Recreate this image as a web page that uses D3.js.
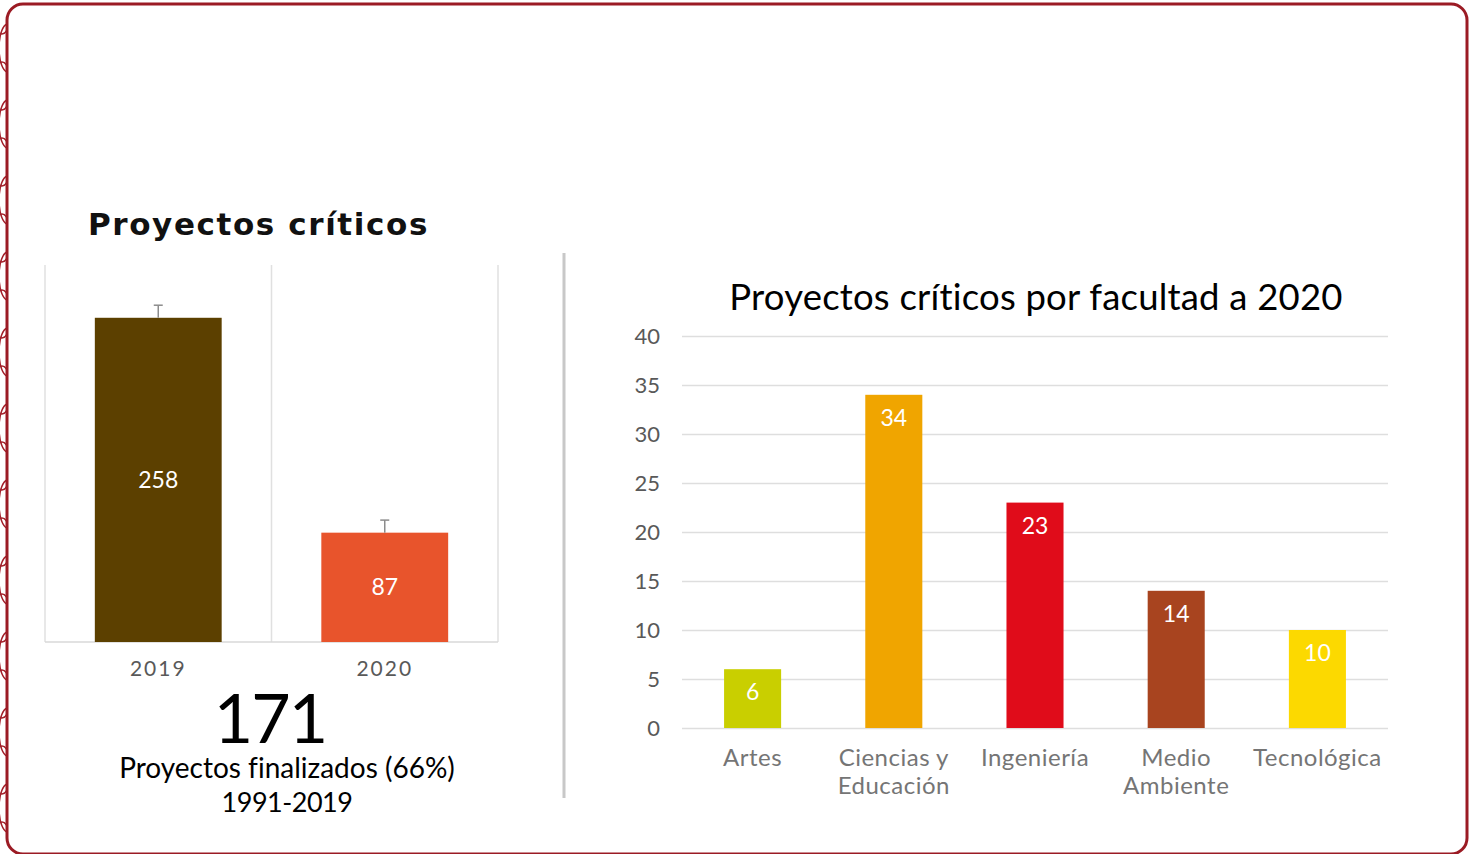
<!DOCTYPE html>
<html>
<head>
<meta charset="utf-8">
<script src="https://cdn.jsdelivr.net/npm/d3@7"></script>
<style>
  html, body { margin: 0; padding: 0; background: #fff; }
  svg { display: block; }
  text { font-variant-ligatures: none; }
</style>
</head>
<body>
<div id="chart"></div>
<script>
// left panel: projects per year
const years = ['2019', '2020'];
const yearValues = [258, 87];
const yearErrors = [10, 10];
const yearColors = ['#5c4000', '#e8542c'];

// right panel: projects per faculty
const faculties = [['Artes'], ['Ciencias y', 'Educación'], ['Ingeniería'], ['Medio', 'Ambiente'], ['Tecnológica']];
const facultyValues = [6, 34, 23, 14, 10];
const facultyColors = ['#c9cf00', '#f0a500', '#e00c1a', '#a8441f', '#fcd900'];
const facultyTicks = [0, 5, 10, 15, 20, 25, 30, 35, 40];

const W = 1470, H = 854;
const font = 'Lato, "Open Sans", sans-serif';

const svg = d3.select('#chart').append('svg')
    .attr('width', W)
    .attr('height', H);

svg.append('rect').attr('width', W).attr('height', H).attr('fill', '#fff');

// decorative strokes at the left edge
const deco = svg.append('g');
svg.append('clipPath').attr('id', 'edge')
    .append('rect').attr('x', 0).attr('y', 0).attr('width', 7).attr('height', H);
deco.attr('clip-path', 'url(#edge)');
d3.range(0, H, 38).forEach((y, i) => {
    deco.append('ellipse')
        .attr('cx', i % 2 ? 8 : 2).attr('cy', y + 10)
        .attr('rx', 9).attr('ry', 24)
        .attr('fill', 'none').attr('stroke', '#a3202a').attr('stroke-width', 1.5);
});

// frame
svg.append('rect')
    .attr('x', 7).attr('y', 4)
    .attr('width', 1460).attr('height', 850)
    .attr('rx', 16)
    .attr('fill', 'none')
    .attr('stroke', '#9b1b24')
    .attr('stroke-width', 3);

// ---------- left chart ----------
const left = { x0: 45, x1: 498, y0: 265, y1: 642 };

const xYear = d3.scaleBand().domain(years).range([left.x0, left.x1]);
const yYear = d3.scaleLinear().domain([0, 300]).range([left.y1, left.y0]);

svg.append('text')
    .attr('x', 88).attr('y', 235)
    .attr('font-family', '"DejaVu Sans", sans-serif')
    .attr('font-weight', 'bold')
    .attr('font-size', 31)
    .attr('letter-spacing', 1.6)
    .attr('fill', '#111')
    .text('Proyectos críticos');

// category separators
const leftGrid = svg.append('g');
[left.x0, left.x0 + xYear.step(), left.x1].forEach(x => {
    leftGrid.append('line')
        .attr('x1', x).attr('x2', x)
        .attr('y1', left.y0).attr('y2', left.y1)
        .attr('stroke', '#e0e0e0').attr('stroke-width', 1.5);
});
leftGrid.append('line')
    .attr('x1', left.x0).attr('x2', left.x1)
    .attr('y1', left.y1).attr('y2', left.y1)
    .attr('stroke', '#d9d9d9').attr('stroke-width', 1.5);

const barW = xYear.step() * 0.56;
const yearBars = svg.selectAll('.ybar').data(years).enter().append('g');

yearBars.append('rect')
    .attr('x', d => xYear(d) + xYear.bandwidth() / 2 - barW / 2)
    .attr('y', (d, i) => yYear(yearValues[i]))
    .attr('width', barW)
    .attr('height', (d, i) => left.y1 - yYear(yearValues[i]))
    .attr('fill', (d, i) => yearColors[i]);

// error bars
yearBars.each(function (d, i) {
    const g = d3.select(this);
    const cx = xYear(d) + xYear.bandwidth() / 2;
    const top = yYear(yearValues[i] + yearErrors[i]);
    g.append('line')
        .attr('x1', cx).attr('x2', cx)
        .attr('y1', yYear(yearValues[i])).attr('y2', top)
        .attr('stroke', '#8c8c8c').attr('stroke-width', 1.5);
    g.append('line')
        .attr('x1', cx - 4.5).attr('x2', cx + 4.5)
        .attr('y1', top).attr('y2', top)
        .attr('stroke', '#8c8c8c').attr('stroke-width', 1.5);
});

yearBars.append('text')
    .attr('x', d => xYear(d) + xYear.bandwidth() / 2)
    .attr('y', (d, i) => (yYear(yearValues[i]) + left.y1) / 2)
    .attr('dy', '0.35em')
    .attr('text-anchor', 'middle')
    .attr('font-family', font)
    .attr('font-size', 23)
    .attr('fill', '#fff')
    .text((d, i) => yearValues[i]);

yearBars.append('text')
    .attr('x', d => xYear(d) + xYear.bandwidth() / 2)
    .attr('y', 676)
    .attr('text-anchor', 'middle')
    .attr('font-family', font)
    .attr('font-size', 21)
    .attr('letter-spacing', 2)
    .attr('fill', '#595959')
    .text(d => d);

svg.append('text')
    .attr('x', 270).attr('y', 743)
    .attr('text-anchor', 'middle')
    .attr('font-family', font)
    .attr('font-size', 68)
    .attr('letter-spacing', -2)
    .attr('fill', '#000')
    .text('171');

svg.append('text')
    .attr('x', 287).attr('y', 778)
    .attr('text-anchor', 'middle')
    .attr('font-family', font)
    .attr('font-size', 28)
    .attr('fill', '#000')
    .text('Proyectos finalizados (66%)');

svg.append('text')
    .attr('x', 287).attr('y', 812)
    .attr('text-anchor', 'middle')
    .attr('font-family', font)
    .attr('font-size', 27)
    .attr('letter-spacing', -0.5)
    .attr('fill', '#000')
    .text('1991-2019');

// divider
svg.append('line')
    .attr('x1', 564).attr('x2', 564)
    .attr('y1', 253).attr('y2', 798)
    .attr('stroke', '#c8c8c8').attr('stroke-width', 3);

// ---------- right chart ----------
const right = { x0: 682, x1: 1388, y0: 336, y1: 728 };

const xFac = d3.scaleBand().domain(d3.range(faculties.length)).range([right.x0, right.x1]);
const yFac = d3.scaleLinear().domain([0, 40]).range([right.y1, right.y0]);

svg.append('text')
    .attr('x', 1036).attr('y', 310)
    .attr('text-anchor', 'middle')
    .attr('font-family', font)
    .attr('font-size', 36.5)
    .attr('letter-spacing', 0.2)
    .attr('fill', '#000')
    .text('Proyectos críticos por facultad a 2020');

const yAxis = svg.append('g')
    .attr('transform', `translate(${right.x0},0)`)
    .call(d3.axisLeft(yFac).tickValues(facultyTicks).tickSize(-(right.x1 - right.x0)).tickPadding(22));
yAxis.select('.domain').remove();
yAxis.selectAll('.tick line').attr('stroke', '#dedede').attr('stroke-width', 1.5);
yAxis.selectAll('.tick text')
    .attr('font-family', font)
    .attr('font-size', 22)
    .attr('fill', '#595959');

const facW = xFac.step() * 0.404;
const facBars = svg.selectAll('.fbar').data(facultyValues).enter().append('g');

facBars.append('rect')
    .attr('x', (d, i) => xFac(i) + xFac.bandwidth() / 2 - facW / 2)
    .attr('y', d => yFac(d))
    .attr('width', facW)
    .attr('height', d => right.y1 - yFac(d))
    .attr('fill', (d, i) => facultyColors[i]);

facBars.append('text')
    .attr('x', (d, i) => xFac(i) + xFac.bandwidth() / 2)
    .attr('y', d => yFac(d) + 31)
    .attr('text-anchor', 'middle')
    .attr('font-family', font)
    .attr('font-size', 23)
    .attr('fill', '#fff')
    .text(d => d);

const facLabels = svg.selectAll('.flab').data(faculties).enter().append('text')
    .attr('text-anchor', 'middle')
    .attr('font-family', font)
    .attr('font-size', 24)
    .attr('letter-spacing', 0.5)
    .attr('fill', '#757575');
facLabels.each(function (lines, i) {
    const t = d3.select(this);
    lines.forEach((l, j) => {
        t.append('tspan')
            .attr('x', xFac(i) + xFac.bandwidth() / 2)
            .attr('y', 766 + j * 28)
            .text(l);
    });
});
</script>
</body>
</html>
